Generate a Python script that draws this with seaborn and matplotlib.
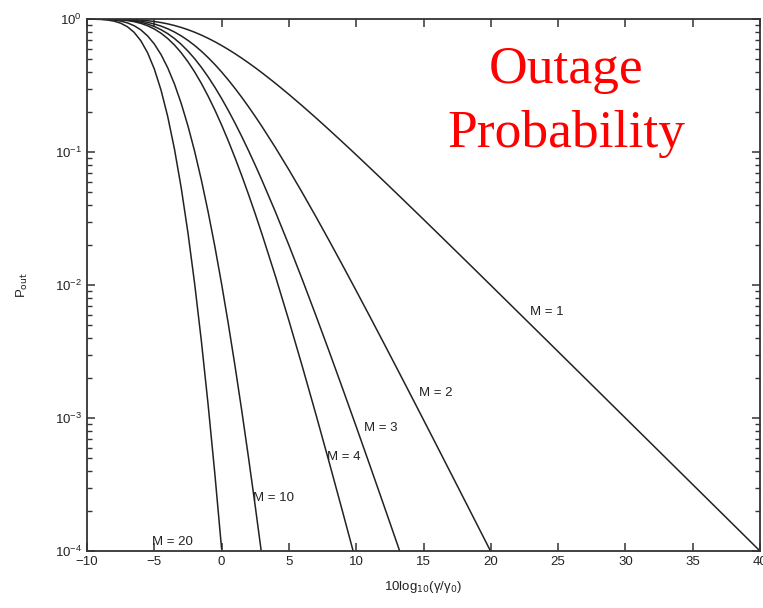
import numpy as np
import pandas as pd
import seaborn as sns
import matplotlib.pyplot as plt

# Outage probability vs normalized SNR (dB) as log10(P_out)
x_fine = [-10, -9, -8.5, -8, -7.5, -7, -6.5, -6, -5.5, -5, -4.5, -4, -3.5, -3, -2.5,
          -2, -1.5, -1, -0.5, 0, 0.5, 1, 1.5, 2, 2.5, 3]

x_m1 = x_fine + [4, 5, 6, 7, 8, 9, 10, 11, 12, 13, 14, 15, 16, 17, 18, 19, 20,
                 25, 30, 35, 40]
logp_m1 = [-0.0000, -0.0002, -0.0004, -0.0008, -0.0016, -0.0029, -0.0050, -0.0082,
           -0.0127, -0.0188, -0.0267, -0.0367, -0.0490, -0.0635, -0.0804, -0.0996,
           -0.1212, -0.1451, -0.1711, -0.1992, -0.2293, -0.2611, -0.2947, -0.3298,
           -0.3664, -0.4043, -0.4836, -0.5669, -0.6534, -0.7426, -0.8340, -0.9271,
           -1.0215, -1.1171, -1.2136, -1.3108, -1.4086, -1.5068, -1.6054, -1.7043,
           -1.8034, -1.9027, -2.0022, -2.5007, -3.0002, -3.5001, -4.0000]

x_m2 = x_fine + list(range(4, 21))
logp_m2 = [-0.0000, -0.0003, -0.0007, -0.0016, -0.0031, -0.0058, -0.0100, -0.0164,
           -0.0254, -0.0376, -0.0535, -0.0735, -0.0979, -0.1270, -0.1608, -0.1992,
           -0.2424, -0.2902, -0.3422, -0.3984, -0.4585, -0.5223, -0.5893, -0.6597,
           -0.7328, -0.8086, -0.9672, -1.1337, -1.3068, -1.4852, -1.6679, -1.8542,
           -2.0431, -2.2342, -2.4272, -2.6217, -2.8172, -3.0137, -3.2109, -3.4087,
           -3.6069, -3.8055, -4.0043]

x_m3 = x_fine + list(range(4, 15))
logp_m3 = [-0.0001, -0.0005, -0.0011, -0.0024, -0.0047, -0.0087, -0.0150, -0.0245,
           -0.0380, -0.0563, -0.0802, -0.1102, -0.1469, -0.1905, -0.2412, -0.2988,
           -0.3636, -0.4352, -0.5133, -0.5976, -0.6878, -0.7834, -0.8840, -0.9895,
           -1.0991, -1.2129, -1.4507, -1.7006, -1.9602, -2.2278, -2.5019, -2.7813,
           -3.0646, -3.3514, -3.6409, -3.9325, -4.2258]

x_m4 = x_fine + list(range(4, 11))
logp_m4 = [-0.0001, -0.0006, -0.0015, -0.0032, -0.0063, -0.0116, -0.0201, -0.0327,
           -0.0507, -0.0751, -0.1070, -0.1470, -0.1958, -0.2540, -0.3215, -0.3984,
           -0.4848, -0.5803, -0.6844, -0.7968, -0.9170, -1.0445, -1.1787, -1.3194,
           -1.4655, -1.6172, -1.9343, -2.2675, -2.6136, -2.9704, -3.3358, -3.7084,
           -4.0861]

x_m10 = x_fine
logp_m10 = [-0.0002, -0.0015, -0.0037, -0.0079, -0.0157, -0.0290, -0.0502, -0.0818,
            -0.1268, -0.1878, -0.2673, -0.3675, -0.4895, -0.6349, -0.8038, -0.9961,
            -1.2121, -1.4508, -1.7110, -1.9920, -2.2926, -2.6113, -2.9468, -3.2985,
            -3.6638, -4.0429]

x_m20 = x_fine[:20]
logp_m20 = [-0.0004, -0.0031, -0.0073, -0.0158, -0.0314, -0.0580, -0.1003, -0.1636,
            -0.2536, -0.3756, -0.5347, -0.7349, -0.9791, -1.2699, -1.6077, -1.9922,
            -2.4241, -2.9015, -3.4219, -3.9839]

branches = [1, 2, 3, 4, 10, 20]
curve_x = [x_m1, x_m2, x_m3, x_m4, x_m10, x_m20]
curve_logp = [logp_m1, logp_m2, logp_m3, logp_m4, logp_m10, logp_m20]

# label positions (left edge x, log10 y)
label_x = [22.9, 14.7, 10.6, 7.8, 2.3, -5.2]
label_logy = [-2.2, -2.81, -3.075, -3.29, -3.6, -3.93]

frames = []
for m, xs, lp in zip(branches, curve_x, curve_logp):
    frames.append(pd.DataFrame({'snr': xs, 'pout': 10 ** np.array(lp), 'M': m}))
df = pd.concat(frames, ignore_index=True)

sns.set_style('ticks')
plt.rcParams['font.family'] = ['Liberation Sans', 'DejaVu Sans']

fig = plt.figure(figsize=(7.63, 6.08), dpi=100)
ax = fig.add_axes([87 / 763, 1 - 551 / 608, (760 - 87) / 763, (551 - 19) / 608])

sns.lineplot(data=df, x='snr', y='pout', hue='M', units='M', estimator=None,
             palette=['#222222'] * len(branches), linewidth=1.1, legend=False,
             ax=ax, sort=False)

ax.set_yscale('log')
ax.set_xlim(-10, 40)
ax.set_ylim(1e-4, 1)
ax.set_xticks(np.arange(-10, 41, 5))

for m, lx, ly in zip(branches, label_x, label_logy):
    ax.text(lx, 10 ** ly, f'M = {m}', fontsize=9.5, ha='left', va='center', color='#222222')

ax.tick_params(which='both', direction='in', top=True, right=True, color='#333333',
               labelsize=9.5, labelcolor='#222222')
ax.tick_params(which='major', length=6, width=1.1)
ax.tick_params(which='minor', length=3.5, width=1.0)
ax.tick_params(axis='x', which='minor', bottom=False, top=False)
for s in ax.spines.values():
    s.set_linewidth(1.3)
    s.set_color('#333333')

ax.set_xlabel('10log$_{10}$(γ/γ$_0$)', fontsize=9.5, color='#222222', labelpad=8)
ax.set_ylabel('P$_{\\mathrm{out}}$', fontsize=9.5, color='#222222', labelpad=18)

# red annotation, two lines placed by baseline
ax.text(0.7117, 0.8797, 'Outage', transform=ax.transAxes, ha='center',
        va='baseline', fontsize=38.5, color='red', family=['Liberation Serif'])
ax.text(0.7117, 0.7594, 'Probability', transform=ax.transAxes, ha='center',
        va='baseline', fontsize=38.5, color='red', family=['Liberation Serif'])

fig.savefig('out.png', dpi=100)
